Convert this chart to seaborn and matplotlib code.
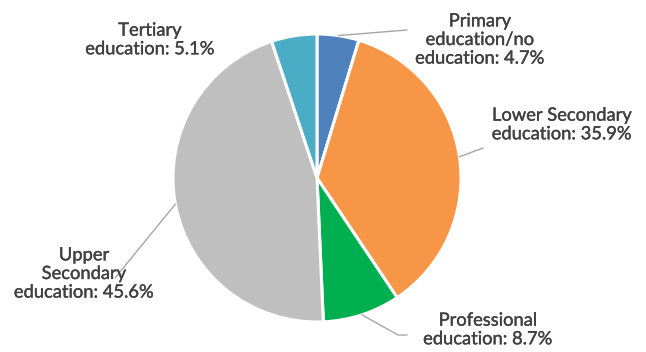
import matplotlib
matplotlib.use("Agg")
import matplotlib.pyplot as plt
import matplotlib.patheffects as pe
import numpy as np
import seaborn as sns

# Share of population by education level
categories = [
    "Primary\neducation/no\neducation",
    "Lower Secondary\neducation",
    "Professional\neducation",
    "Upper\nSecondary\neducation",
    "Tertiary\neducation",
]
shares = [4.7, 35.9, 8.7, 45.6, 5.1]
colors = ["#4F81BD", "#F79646", "#00B050", "#BFBFBF", "#4BACC6"]

sns.set_theme(style="white")
plt.rcParams["font.family"] = ["Lato", "DejaVu Sans"]

W, H = 646, 352
fig = plt.figure(figsize=(W / 100, H / 100), dpi=100)
ax = fig.add_axes([0, 0, 1, 1])

cx, cy, r = 317, H - 178, 144
wedges, _ = ax.pie(
    shares, colors=colors, startangle=90, counterclock=False,
    center=(cx, cy), radius=r, frame=True,
    wedgeprops=dict(edgecolor="white", linewidth=2.2),
)
ax.set_xlim(0, W)
ax.set_ylim(0, H)
ax.set_aspect("equal")
ax.axis("off")

# label block centres (x, y from top) and leader-line bends
label_pos = [(480, 40), (562, 125), (488, 330), (84, 274), (150, 40)]
leaders = [
    [(407, 30)],
    [(483, 148)],
    [(398, 335), (407, 335)],
    [(115, 278)],
    None,
]

text_color = "#404040"
line_color = "#A6A6A6"
stroke = [pe.withStroke(linewidth=0.25, foreground=text_color)]
for w, cat, val, (lx, ly), bends in zip(wedges, categories, shares, label_pos, leaders):
    mid = np.deg2rad((w.theta1 + w.theta2) / 2)
    ex, ey = cx + r * np.cos(mid), cy + r * np.sin(mid)
    if bends:
        xs = [ex] + [b[0] for b in bends]
        ys = [ey] + [H - b[1] for b in bends]
        ax.plot(xs, ys, color=line_color, lw=1.0, zorder=1)
    ax.text(lx, H - ly, f"{cat}: {val}%", ha="center", va="center",
            fontsize=13.2, color=text_color, linespacing=1.2, zorder=3,
            path_effects=stroke)

fig.savefig("out.png", dpi=100)
